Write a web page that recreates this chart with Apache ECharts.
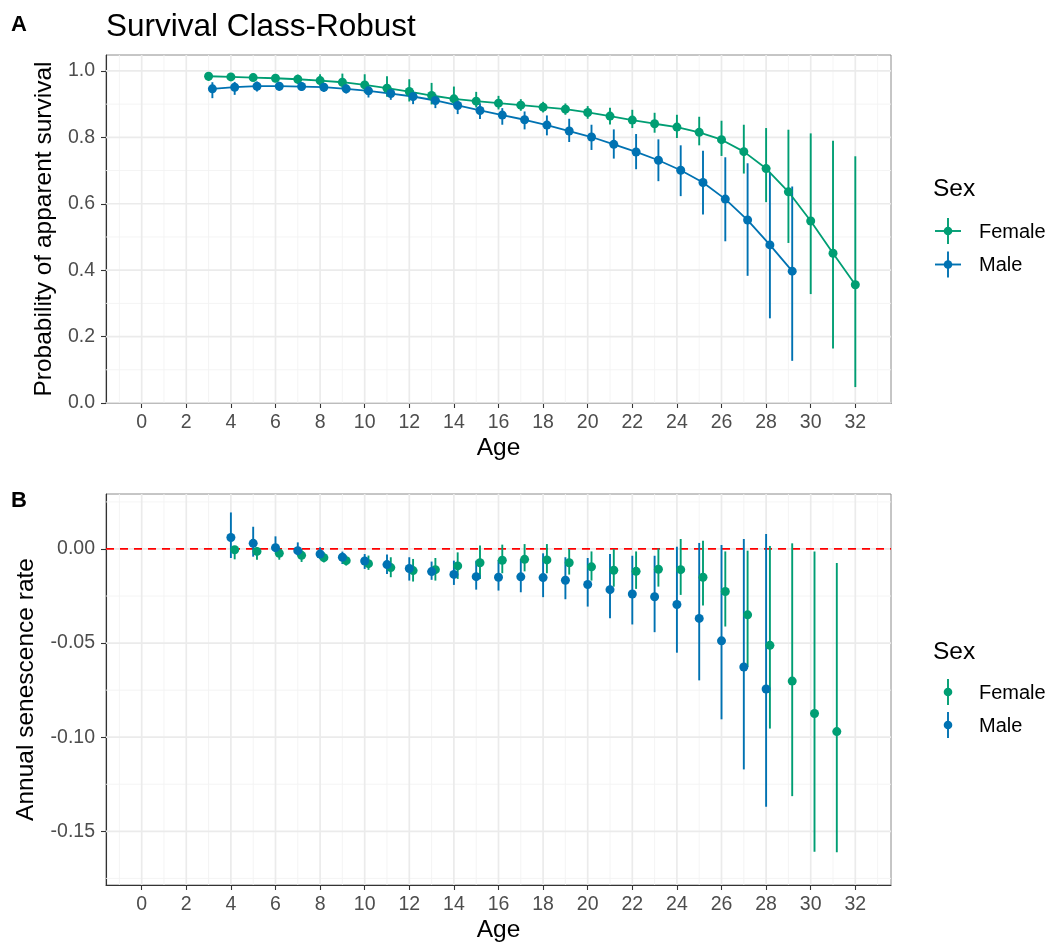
<!DOCTYPE html>
<html>
<head>
<meta charset="utf-8">
<script src="https://cdn.jsdelivr.net/npm/echarts@6/dist/echarts.min.js"></script>
<style>
  html, body { margin: 0; padding: 0; background: #ffffff; }
  #chart { width: 1051px; height: 949px; }
</style>
</head>
<body>
<div id="chart"></div>
<script>
// ---- Tick values ----
const ageTicks = [0, 2, 4, 6, 8, 10, 12, 14, 16, 18, 20, 22, 24, 26, 28, 30, 32];
const ageMinor = [-1, 1, 3, 5, 7, 9, 11, 13, 15, 17, 19, 21, 23, 25, 27, 29, 31, 33];
const survTicks = [0, 0.2, 0.4, 0.6, 0.8, 1.0];
const survMinor = [0.1, 0.3, 0.5, 0.7, 0.9];
const rateTicks = [-0.15, -0.10, -0.05, 0];
const rateMinor = [-0.175, -0.125, -0.075, -0.025, 0.025];

// ---- Panel A: probability of apparent survival ----
const survAgeF = [3,4,5,6,7,8,9,10,11,12,13,14,15,16,17,18,19,20,21,22,23,24,25,26,27,28,29,30,31,32];
const survF    = [0.984,0.982,0.980,0.978,0.975,0.971,0.966,0.958,0.948,0.938,0.926,0.916,0.909,0.903,0.897,
                  0.891,0.885,0.875,0.864,0.852,0.841,0.831,0.815,0.793,0.757,0.706,0.636,0.548,0.451,0.356];
const survFLo  = [0.970,0.972,0.970,0.966,0.961,0.955,0.945,0.935,0.922,0.908,0.899,0.896,0.890,0.884,0.880,
                  0.875,0.868,0.856,0.839,0.828,0.814,0.798,0.776,0.744,0.691,0.605,0.482,0.328,0.164,0.048];
const survFHi  = [0.995,0.993,0.992,0.990,0.989,0.990,0.992,0.990,0.984,0.975,0.964,0.953,0.937,0.925,0.915,
                  0.907,0.902,0.894,0.889,0.883,0.874,0.868,0.862,0.850,0.838,0.828,0.823,0.812,0.790,0.743];

const survAgeM = [3,4,5,6,7,8,9,10,11,12,13,14,15,16,17,18,19,20,21,22,23,24,25,26,27,28,29];
const survM    = [0.946,0.951,0.954,0.954,0.953,0.951,0.946,0.940,0.932,0.923,0.911,0.896,0.881,0.867,0.853,
                  0.837,0.819,0.801,0.779,0.756,0.731,0.701,0.664,0.614,0.551,0.476,0.397];
const survMLo  = [0.918,0.928,0.938,0.940,0.940,0.937,0.932,0.920,0.913,0.900,0.888,0.870,0.855,0.838,0.824,
                  0.806,0.786,0.762,0.736,0.704,0.668,0.623,0.568,0.487,0.383,0.255,0.127];
const survMHi  = [0.966,0.967,0.968,0.967,0.966,0.964,0.960,0.958,0.950,0.942,0.931,0.918,0.903,0.888,0.878,
                  0.866,0.856,0.838,0.824,0.810,0.794,0.776,0.760,0.740,0.722,0.696,0.652];

// ---- Panel B: annual senescence rate ----
const rateAgeF = [4,5,6,7,8,9,10,11,12,13,14,15,16,17,18,19,20,21,22,23,24,25,26,27,28,29,30,31];
const rateF    = [-0.0004,-0.0013,-0.0023,-0.0034,-0.0046,-0.0062,-0.0078,-0.0099,-0.0115,-0.0110,-0.0090,-0.0073,
                  -0.0060,-0.0055,-0.0058,-0.0073,-0.0095,-0.0113,-0.0119,-0.0108,-0.0110,-0.0150,-0.0226,-0.0350,
                  -0.0512,-0.0702,-0.0874,-0.0970];
const rateFLo  = [-0.0055,-0.0057,-0.0057,-0.0069,-0.0071,-0.0088,-0.0111,-0.0150,-0.0173,-0.0168,-0.0159,-0.0159,
                  -0.0129,-0.0119,-0.0129,-0.0136,-0.0168,-0.0200,-0.0212,-0.0200,-0.0244,-0.0300,-0.0412,-0.0627,
                  -0.0954,-0.1313,-0.1608,-0.1611];
const rateFHi  = [0.0009,0.0009,0.0000,0.0000,-0.0018,-0.0035,-0.0035,-0.0044,-0.0053,-0.0048,-0.0018,0.0018,
                  0.0023,0.0026,0.0026,0.0000,-0.0013,0.0000,-0.0013,0.0003,0.0053,0.0044,-0.0013,-0.0009,
                  0.0016,0.0030,-0.0013,-0.0074];

const rateAgeM = [4,5,6,7,8,9,10,11,12,13,14,15,16,17,18,19,20,21,22,23,24,25,26,27,28];
const rateM    = [0.0061,0.0030,0.0007,-0.0009,-0.0027,-0.0044,-0.0064,-0.0083,-0.0104,-0.0120,-0.0135,-0.0147,
                  -0.0150,-0.0148,-0.0152,-0.0166,-0.0189,-0.0216,-0.0239,-0.0254,-0.0295,-0.0369,-0.0488,-0.0627,-0.0744];
const rateMLo  = [-0.0048,-0.0041,-0.0018,-0.0036,-0.0053,-0.0080,-0.0106,-0.0133,-0.0168,-0.0164,-0.0191,-0.0216,
                  -0.0221,-0.0230,-0.0256,-0.0267,-0.0306,-0.0368,-0.0401,-0.0442,-0.0551,-0.0698,-0.0905,-0.1171,-0.1369];
const rateMHi  = [0.0194,0.0118,0.0067,0.0035,0.0009,-0.0014,-0.0027,-0.0030,-0.0044,-0.0067,-0.0062,-0.0062,
                  -0.0058,-0.0053,-0.0023,-0.0044,-0.0048,-0.0027,-0.0036,-0.0036,0.0012,0.0032,0.0021,0.0053,0.0079];

// ---- Styling ----
const GREEN = '#009E73';
const BLUE = '#0072B2';
const FONT = '"Liberation Sans", Arial, Helvetica, sans-serif';
const DODGE = 0.17;   // horizontal nudge separating the two sexes

const chart = echarts.init(document.getElementById('chart'), null, { renderer: 'canvas' });

// Panel gridlines: kind 0 = vertical major, 1 = vertical minor, 2 = horizontal major, 3 = horizontal minor
function gridData(xMajor, xMinor, yMajor, yMinor, xRef, yRef) {
  const out = [];
  xMinor.forEach(v => out.push([v, yRef, 1]));
  yMinor.forEach(v => out.push([xRef, v, 3]));
  xMajor.forEach(v => out.push([v, yRef, 0]));
  yMajor.forEach(v => out.push([xRef, v, 2]));
  return out;
}
function gridItem(params, api) {
  const cs = params.coordSys;
  const kind = api.value(2);
  const p = api.coord([api.value(0), api.value(1)]);
  const major = kind === 0 || kind === 2;
  const shape = kind < 2
    ? { x1: p[0], y1: cs.y, x2: p[0], y2: cs.y + cs.height }
    : { x1: cs.x, y1: p[1], x2: cs.x + cs.width, y2: p[1] };
  return {
    type: 'line', shape, silent: true,
    style: { stroke: major ? '#ebebeb' : '#f3f3f3', lineWidth: major ? 1.7 : 0.9 }
  };
}
function rangeItem(params, api) {
  const x = api.value(0);
  const a = api.coord([x, api.value(1)]);
  const b = api.coord([x, api.value(2)]);
  return {
    type: 'line',
    shape: { x1: a[0], y1: a[1], x2: b[0], y2: b[1] },
    style: { stroke: api.visual('color'), lineWidth: 1.9 }
  };
}
function refLineItem(params, api) {
  const cs = params.coordSys;
  const p = api.coord([api.value(0), api.value(1)]);
  return {
    type: 'line', silent: true,
    shape: { x1: cs.x, y1: p[1], x2: cs.x + cs.width, y2: p[1] },
    style: { stroke: '#ff0000', lineWidth: 1.8, lineDash: [8, 6] }
  };
}

function xAxisFor(gridIndex) {
  return {
    type: 'value', gridIndex, min: -1.6, max: 33.6,
    name: 'Age', nameLocation: 'middle', nameGap: 33,
    nameTextStyle: { fontSize: 24.5, color: '#000000', fontFamily: FONT },
    axisLine: { show: true, onZero: false, lineStyle: { color: '#333333', width: 1.1 } },
    axisTick: { show: true, customValues: ageTicks, length: 5, lineStyle: { color: '#333333', width: 1.1 } },
    axisLabel: { customValues: ageTicks, margin: 10, fontSize: 19.5, color: '#4d4d4d', fontFamily: FONT },
    splitLine: { show: false }, minorSplitLine: { show: false }
  };
}

const option = {
  animation: false,
  backgroundColor: '#ffffff',
  textStyle: { fontFamily: FONT },
  grid: [
    { left: 106, top: 55, width: 785, height: 348, show: true, borderColor: '#8c8c8c', borderWidth: 1, backgroundColor: '#ffffff' },
    { left: 106, top: 494, width: 785, height: 391, show: true, borderColor: '#8c8c8c', borderWidth: 1, backgroundColor: '#ffffff' }
  ],
  xAxis: [xAxisFor(0), xAxisFor(1)],
  yAxis: [
    {
      type: 'value', gridIndex: 0, min: 0, max: 1.048,
      name: 'Probability of apparent survival', nameLocation: 'middle', nameGap: 48,
      nameTextStyle: { fontSize: 24.5, color: '#000000', fontFamily: FONT },
      axisLine: { show: true, onZero: false, lineStyle: { color: '#333333', width: 1.1 } },
      axisTick: { show: true, customValues: survTicks, length: 5, lineStyle: { color: '#333333', width: 1.1 } },
      axisLabel: { customValues: survTicks, margin: 11, fontSize: 19.5, color: '#4d4d4d', fontFamily: FONT,
                   formatter: v => v.toFixed(1) },
      splitLine: { show: false }, minorSplitLine: { show: false }
    },
    {
      type: 'value', gridIndex: 1, min: -0.1785, max: 0.0292,
      name: 'Annual senescence rate', nameLocation: 'middle', nameGap: 67,
      nameTextStyle: { fontSize: 24.5, color: '#000000', fontFamily: FONT },
      axisLine: { show: true, onZero: false, lineStyle: { color: '#333333', width: 1.1 } },
      axisTick: { show: true, customValues: rateTicks, length: 5, lineStyle: { color: '#333333', width: 1.1 } },
      axisLabel: { customValues: rateTicks, margin: 11, fontSize: 19.5, color: '#4d4d4d', fontFamily: FONT,
                   formatter: v => v.toFixed(2) },
      splitLine: { show: false }, minorSplitLine: { show: false }
    }
  ],
  series: [
    // gridlines
    { type: 'custom', xAxisIndex: 0, yAxisIndex: 0, z: 1, silent: true, renderItem: gridItem,
      encode: { x: 0, y: 1 }, data: gridData(ageTicks, ageMinor, survTicks, survMinor, 10, 0.5) },
    { type: 'custom', xAxisIndex: 1, yAxisIndex: 1, z: 1, silent: true, renderItem: gridItem,
      encode: { x: 0, y: 1 }, data: gridData(ageTicks, ageMinor, rateTicks, rateMinor, 10, -0.05) },
    // zero reference line in panel B
    { type: 'custom', xAxisIndex: 1, yAxisIndex: 1, z: 2, silent: true, renderItem: refLineItem,
      encode: { x: 0, y: 1 }, data: [[10, 0]] },

    // Panel A
    { name: 'Female', type: 'custom', xAxisIndex: 0, yAxisIndex: 0, z: 4, renderItem: rangeItem,
      itemStyle: { color: GREEN }, encode: { x: 0, y: [1, 2] },
      data: survAgeF.map((a, i) => [a, survFLo[i], survFHi[i]]) },
    { name: 'Male', type: 'custom', xAxisIndex: 0, yAxisIndex: 0, z: 4, renderItem: rangeItem,
      itemStyle: { color: BLUE }, encode: { x: 0, y: [1, 2] },
      data: survAgeM.map((a, i) => [a + DODGE, survMLo[i], survMHi[i]]) },
    { name: 'Female', type: 'line', xAxisIndex: 0, yAxisIndex: 0, z: 5,
      symbol: 'circle', symbolSize: 9, showSymbol: true,
      itemStyle: { color: GREEN }, lineStyle: { color: GREEN, width: 1.8 },
      data: survAgeF.map((a, i) => [a, survF[i]]) },
    { name: 'Male', type: 'line', xAxisIndex: 0, yAxisIndex: 0, z: 5,
      symbol: 'circle', symbolSize: 9, showSymbol: true,
      itemStyle: { color: BLUE }, lineStyle: { color: BLUE, width: 1.8 },
      data: survAgeM.map((a, i) => [a + DODGE, survM[i]]) },

    // Panel B
    { name: 'Female', type: 'custom', xAxisIndex: 1, yAxisIndex: 1, z: 4, renderItem: rangeItem,
      itemStyle: { color: GREEN }, encode: { x: 0, y: [1, 2] },
      data: rateAgeF.map((a, i) => [a + DODGE, rateFLo[i], rateFHi[i]]) },
    { name: 'Male', type: 'custom', xAxisIndex: 1, yAxisIndex: 1, z: 4, renderItem: rangeItem,
      itemStyle: { color: BLUE }, encode: { x: 0, y: [1, 2] },
      data: rateAgeM.map((a, i) => [a, rateMLo[i], rateMHi[i]]) },
    { name: 'Female', type: 'scatter', xAxisIndex: 1, yAxisIndex: 1, z: 5,
      symbol: 'circle', symbolSize: 9, itemStyle: { color: GREEN, opacity: 1 },
      data: rateAgeF.map((a, i) => [a + DODGE, rateF[i]]) },
    { name: 'Male', type: 'scatter', xAxisIndex: 1, yAxisIndex: 1, z: 5,
      symbol: 'circle', symbolSize: 9, itemStyle: { color: BLUE, opacity: 1 },
      data: rateAgeM.map((a, i) => [a, rateM[i]]) }
  ],
  graphic: [
    // panel tags and title
    { type: 'text', x: 11, y: 25, style: { text: 'A', font: 'bold 22px ' + FONT, fill: '#000', verticalAlign: 'middle' } },
    { type: 'text', x: 11, y: 501, style: { text: 'B', font: 'bold 22px ' + FONT, fill: '#000', verticalAlign: 'middle' } },
    { type: 'text', x: 106, y: 27, style: { text: 'Survival Class-Robust', font: '31.5px ' + FONT, fill: '#000', verticalAlign: 'middle' } },

    // legend, panel A
    { type: 'text', x: 933, y: 189.5, style: { text: 'Sex', font: '24.5px ' + FONT, fill: '#000', verticalAlign: 'middle' } },
    { type: 'line', shape: { x1: 935, y1: 231, x2: 961, y2: 231 }, style: { stroke: GREEN, lineWidth: 1.9 } },
    { type: 'line', shape: { x1: 948, y1: 218, x2: 948, y2: 244 }, style: { stroke: GREEN, lineWidth: 1.9 } },
    { type: 'circle', shape: { cx: 948, cy: 231, r: 4.3 }, style: { fill: GREEN } },
    { type: 'text', x: 979, y: 232.7, style: { text: 'Female', font: '20px ' + FONT, fill: '#000', verticalAlign: 'middle' } },
    { type: 'line', shape: { x1: 935, y1: 264.5, x2: 961, y2: 264.5 }, style: { stroke: BLUE, lineWidth: 1.9 } },
    { type: 'line', shape: { x1: 948, y1: 251.5, x2: 948, y2: 277.5 }, style: { stroke: BLUE, lineWidth: 1.9 } },
    { type: 'circle', shape: { cx: 948, cy: 264.5, r: 4.3 }, style: { fill: BLUE } },
    { type: 'text', x: 979, y: 265.5, style: { text: 'Male', font: '20px ' + FONT, fill: '#000', verticalAlign: 'middle' } },

    // legend, panel B
    { type: 'text', x: 933, y: 652, style: { text: 'Sex', font: '24.5px ' + FONT, fill: '#000', verticalAlign: 'middle' } },
    { type: 'line', shape: { x1: 948, y1: 679, x2: 948, y2: 705 }, style: { stroke: GREEN, lineWidth: 1.9 } },
    { type: 'circle', shape: { cx: 948, cy: 692, r: 4.3 }, style: { fill: GREEN } },
    { type: 'text', x: 979, y: 693.5, style: { text: 'Female', font: '20px ' + FONT, fill: '#000', verticalAlign: 'middle' } },
    { type: 'line', shape: { x1: 948, y1: 712, x2: 948, y2: 738 }, style: { stroke: BLUE, lineWidth: 1.9 } },
    { type: 'circle', shape: { cx: 948, cy: 725, r: 4.3 }, style: { fill: BLUE } },
    { type: 'text', x: 979, y: 726.5, style: { text: 'Male', font: '20px ' + FONT, fill: '#000', verticalAlign: 'middle' } }
  ]
};

chart.setOption(option);
</script>
</body>
</html>
